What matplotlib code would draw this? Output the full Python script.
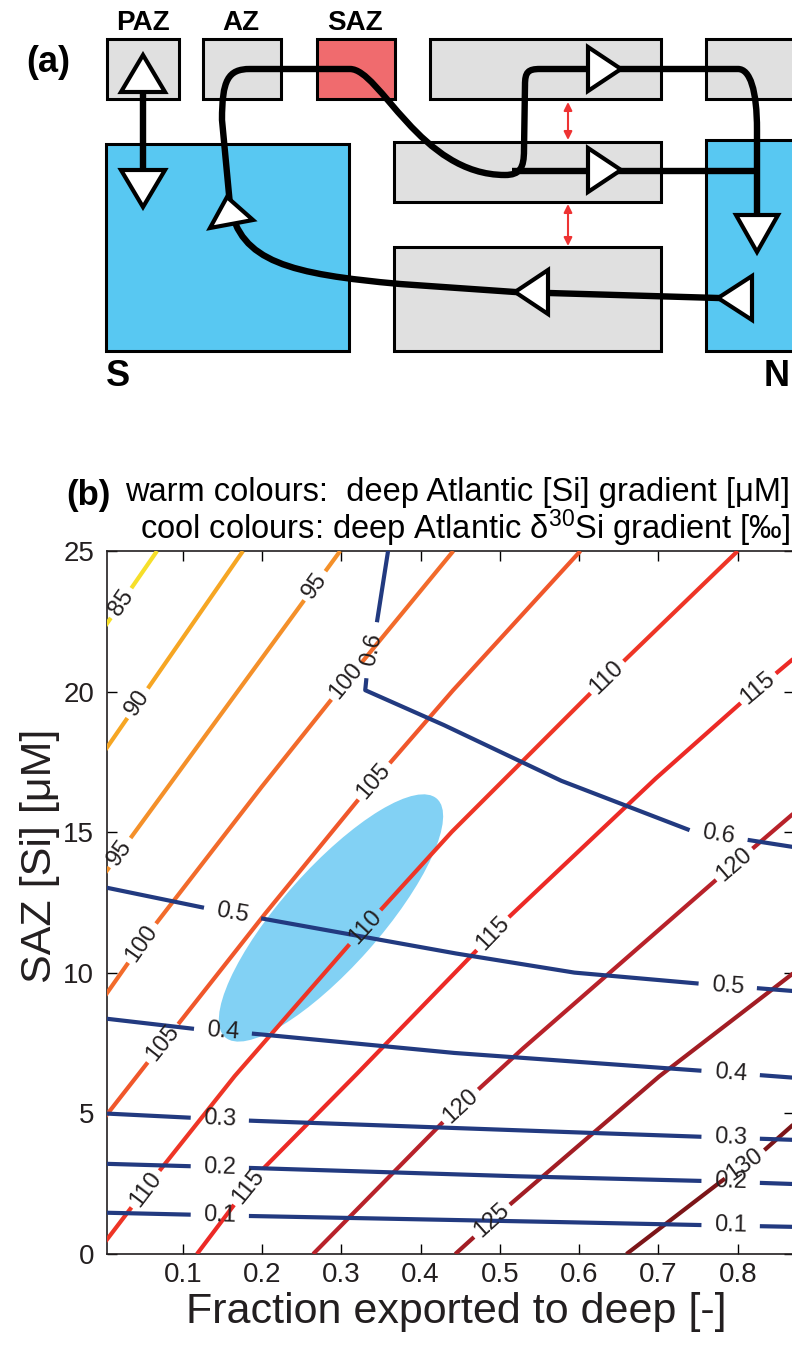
import numpy as np
import matplotlib
matplotlib.use("Agg")
import matplotlib.pyplot as plt
from matplotlib.patches import Rectangle, Polygon, Ellipse, PathPatch
from matplotlib.path import Path
from matplotlib.transforms import Affine2D

plt.rcParams['font.family'] = ['Liberation Sans', 'DejaVu Sans']
plt.rcParams['mathtext.fontset'] = 'custom'
plt.rcParams['mathtext.rm'] = 'Liberation Sans'
plt.rcParams['mathtext.it'] = 'Liberation Sans:italic'

# ---------------- panel (b) data ----------------
# x = fraction exported to deep, y = SAZ [Si] (uM)

# deep Atlantic [Si] gradient contours (uM)
si_levels = [85, 90, 95, 100, 105, 110, 115, 120, 125, 130]
si_colors = ['#F6DF2A', '#F6A623', '#F4902A', '#F26B2B', '#F0572B',
             '#EE3526', '#EC2A26', '#B8222A', '#A21D24', '#7C1518']
si85_x = [0.0, 0.0676]
si85_y = [22.24, 25.0]
si90_x = [0.0, 0.176]
si90_y = [17.83, 25.0]
si95_x = [0.0, 0.2986]
si95_y = [13.47, 25.0]
si100_x = [0.0, 0.0625, 0.195, 0.2898, 0.4413]
si100_y = [9.1, 11.61, 16.45, 19.8, 25.0]
si105_x = [0.0, 0.0574, 0.0928, 0.2001, 0.3239, 0.4375, 0.6016]
si105_y = [4.8, 6.87, 8.12, 11.97, 16.24, 19.94, 25.0]
si110_x = [0.0, 0.0676, 0.1638, 0.3112, 0.4375, 0.6143, 0.80]
si110_y = [0.35, 2.85, 6.27, 11.04, 14.96, 19.94, 25.0]
si115_x = [0.118, 0.1686, 0.2014, 0.3112, 0.4375, 0.5095, 0.6938, 0.8037, 0.88]
si115_y = [0.0, 1.89, 3.03, 6.16, 9.83, 11.93, 16.84, 19.59, 21.4]
si120_x = [0.2645, 0.43, 0.5259, 0.7746, 0.88]
si120_y = [0.0, 4.74, 7.23, 13.35, 15.9]
si125_x = [0.4438, 0.5107, 0.6989, 0.88]
si125_y = [0.0, 1.71, 6.27, 10.2]
si130_x = [0.6597, 0.7746, 0.8327, 0.88]
si130_y = [0.0, 2.49, 3.67, 4.85]

# label positions on each [Si] contour
si85_lab = [(0.0234, 23.15)]
si90_lab = [(0.0436, 19.59)]
si95_lab = [(0.0208, 14.28), (0.2645, 23.79)]
si100_lab = [(0.0486, 11.04), (0.305, 20.41)]
si105_lab = [(0.0751, 7.48), (0.3403, 16.84)]
si110_lab = [(0.0511, 2.35), (0.3302, 11.61), (0.6357, 20.51)]
si115_lab = [(0.185, 2.35), (0.4905, 11.4), (0.825, 20.16)]
si120_lab = [(0.4501, 5.27), (0.7948, 13.89)]
si125_lab = [(0.488, 1.25)]
si130_lab = [(0.8062, 3.31)]

# deep Atlantic d30Si gradient contours (permil)
d30_levels = ['0.1', '0.2', '0.3', '0.4', '0.5', '0.6']
d30_color = '#223A80'
d01_x = [0.0, 0.186, 0.50, 0.753, 0.88]
d01_y = [1.47, 1.35, 1.18, 1.03, 0.96]
d02_x = [0.0, 0.186, 0.50, 0.753, 0.88]
d02_y = [3.21, 3.06, 2.78, 2.60, 2.48]
d03_x = [0.0, 0.186, 0.50, 0.753, 0.88]
d03_y = [5.0, 4.74, 4.42, 4.17, 4.05]
d04_x = [0.0, 0.113, 0.191, 0.4375, 0.753, 0.88]
d04_y = [8.38, 8.01, 7.83, 7.16, 6.52, 6.25]
d05_x = [0.0, 0.1256, 0.2001, 0.4375, 0.5928, 0.7494, 0.88]
d05_y = [13.05, 12.32, 11.93, 10.72, 10.01, 9.62, 9.33]
d06_x = [0.359, 0.3428, 0.3327, 0.3302, 0.4249, 0.5764, 0.7405, 0.8163, 0.88]
d06_y = [25.0, 22.08, 20.76, 20.05, 18.87, 16.84, 15.06, 14.71, 14.43]

d01_lab = [(0.147, 1.39), (0.791, 1.0)]
d02_lab = [(0.147, 3.06), (0.791, 2.53)]
d03_lab = [(0.147, 4.74), (0.791, 4.13)]
d04_lab = [(0.151, 7.87), (0.791, 6.41)]
d05_lab = [(0.162, 12.04), (0.787, 9.47)]
d06_lab = [(0.339, 21.47), (0.776, 14.81)]

# observational constraint (shaded ellipse): centre and semi-axis vectors
obs_centre = (0.287, 11.95)
obs_axis1 = (0.1336, 4.24)
obs_axis2 = (0.0465, -1.164)

xticks = [0.1, 0.2, 0.3, 0.4, 0.5, 0.6, 0.7, 0.8]
yticks = [0, 5, 10, 15, 20, 25]

# ---------------- panel (a) schematic layout (pixels) ----------------
grey, blue, red = '#E0E0E0', '#58C8F2', '#F06B6E'
boxes = [  # x0, y0, x1, y1, colour
    (107, 39, 179, 99, grey),    # PAZ
    (203, 39, 281, 99, grey),    # AZ
    (317, 39, 395, 99, red),     # SAZ
    (430, 39, 661, 99, grey),
    (706, 39, 800, 99, grey),
    (106, 144, 349, 351, blue),  # S
    (394, 142, 661, 202, grey),
    (394, 247, 661, 351, grey),
    (706, 140, 800, 351, blue),  # N
]
triangles = [  # tip, base end 1, base end 2
    ((143, 55), (121, 92), (165, 92)),
    ((143, 207), (121, 170), (165, 170)),
    ((227, 197), (210, 228), (253, 220)),
    ((621, 69), (588, 47), (588, 91)),
    ((621, 170), (588, 148), (588, 192)),
    ((757, 252), (736, 215), (778, 215)),
    ((718, 298), (752, 276), (752, 320)),
    ((515, 292), (548, 270), (548, 314)),
]

fig = plt.figure(figsize=(7.92, 13.46), dpi=100)
W, H = 792.0, 1346.0

# ---------------- panel (a) ----------------
axa = fig.add_axes([0, 1 - 420 / H, 1, 420 / H])
axa.set_xlim(0, 792)
axa.set_ylim(420, 0)
axa.axis('off')

for x0, y0, x1, y1, c in boxes:
    axa.add_patch(Rectangle((x0, y0), x1 - x0, y1 - y0, facecolor=c,
                            edgecolor='black', lw=2.2, zorder=1))

M, L, C = Path.MOVETO, Path.LINETO, Path.CURVE4
main_v = [(752, 299), (515, 292), (400, 284),
          (290, 274), (240, 262), (230, 205),
          (222, 120),
          (222, 80), (228, 69), (250, 69),
          (350, 69),
          (380, 69), (420, 175), (505, 175),
          (520, 175), (524, 168), (524, 150),
          (525, 85),
          (525, 72), (528, 69), (540, 69),
          (738, 69),
          (750, 69), (757, 90), (757, 130),
          (757, 220)]
main_c = [M, L, L, C, C, C, L, C, C, C, L, C, C, C, C, C, C, L, C, C, C, L,
          C, C, C, L]
lw_path = 4.6
axa.add_patch(PathPatch(Path(main_v, main_c), facecolor='none', edgecolor='black',
                        lw=lw_path, capstyle='butt', joinstyle='round', zorder=3))
axa.add_patch(PathPatch(Path([(512, 171), (757, 171)], [M, L]), facecolor='none',
                        edgecolor='black', lw=lw_path, capstyle='butt', zorder=3))
axa.add_patch(PathPatch(Path([(143, 85), (143, 175)], [M, L]), facecolor='none',
                        edgecolor='black', lw=lw_path, capstyle='butt', zorder=3))

for tri in triangles:
    axa.add_patch(Polygon(tri, closed=True, facecolor='white', edgecolor='black',
                          lw=3.0, joinstyle='miter', zorder=4))

for y0, y1 in [(102, 140), (204, 246)]:
    axa.annotate('', xy=(568, y1), xytext=(568, y0),
                 arrowprops=dict(arrowstyle='<|-|>', color='#EE3333', lw=1.5,
                                 mutation_scale=12, shrinkA=0, shrinkB=0))

bold = dict(fontweight='bold', color='black')
axa.text(48, 62, '(a)', fontsize=26, ha='center', va='center', **bold)
for lab, xc in [('PAZ', 143), ('AZ', 241), ('SAZ', 355)]:
    axa.text(xc, 23, lab, fontsize=20, ha='center', va='center', **bold)
axa.text(106, 376, 'S', fontsize=26, ha='left', va='center', **bold)
axa.text(790, 376, 'N', fontsize=26, ha='right', va='center', **bold)

# ---------------- panel (b) ----------------
xlim = (0.004, 0.871)
ylim = (0, 25)
left, right, top, bottom = 106.6, 794.0, 551.0, 1254.0
axb = fig.add_axes([left / W, 1 - bottom / H, (right - left) / W, (bottom - top) / H])
axb.set_xlim(*xlim)
axb.set_ylim(*ylim)

axb.add_patch(Ellipse((0, 0), 2, 2, facecolor='#82D1F4', edgecolor='none', zorder=1,
                      transform=Affine2D(np.array([[obs_axis1[0], obs_axis2[0], obs_centre[0]],
                                                   [obs_axis1[1], obs_axis2[1], obs_centre[1]],
                                                   [0, 0, 1]])) + axb.transData))

renderer = fig.canvas.get_renderer()


def draw_contour(ax, xs, ys, labels, text, color, pad):
    trans = ax.transData
    pts = trans.transform(np.column_stack([xs, ys]))
    dense = [pts[0]]
    for p0, p1 in zip(pts[:-1], pts[1:]):
        n = max(int(np.hypot(*(p1 - p0))), 1)
        t = np.linspace(0, 1, n + 1)[1:]
        dense.extend(p0 + np.outer(t, p1 - p0))
    dense = np.array(dense)
    keep = np.ones(len(dense), bool)
    for lx, ly in labels:
        c0 = trans.transform((lx, ly))
        i = np.hypot(*(dense - c0).T).argmin()
        c = dense[i]
        j0, j1 = max(i - 6, 0), min(i + 6, len(dense) - 1)
        dx, dy = dense[j1] - dense[j0]
        ang = np.degrees(np.arctan2(dy, dx))
        while ang > 80:
            ang -= 180
        while ang <= -100:
            ang += 180
        xd, yd = trans.inverted().transform(c)
        t = ax.text(xd, yd, text, fontsize=17, color='#231F20', ha='center',
                    va='center', rotation=0, rotation_mode='anchor', zorder=5)
        w = t.get_window_extent(renderer).width
        t.set_rotation(ang)
        keep &= np.hypot(*(dense - c).T) > w / 2 + pad
    seg = dense.copy()
    seg[~keep] = np.nan
    xy = trans.inverted().transform(seg)
    ax.plot(xy[:, 0], xy[:, 1], color=color, lw=3.0, solid_capstyle='butt', zorder=3)


si_lines = [(si85_x, si85_y, si85_lab), (si90_x, si90_y, si90_lab),
            (si95_x, si95_y, si95_lab), (si100_x, si100_y, si100_lab),
            (si105_x, si105_y, si105_lab), (si110_x, si110_y, si110_lab),
            (si115_x, si115_y, si115_lab), (si120_x, si120_y, si120_lab),
            (si125_x, si125_y, si125_lab), (si130_x, si130_y, si130_lab)]
for lev, col, (xs, ys, labs) in zip(si_levels, si_colors, si_lines):
    draw_contour(axb, xs, ys, labs, str(lev), col, pad=4)

d30_lines = [(d01_x, d01_y, d01_lab), (d02_x, d02_y, d02_lab), (d03_x, d03_y, d03_lab),
             (d04_x, d04_y, d04_lab), (d05_x, d05_y, d05_lab), (d06_x, d06_y, d06_lab)]
for lev, (xs, ys, labs) in zip(d30_levels, d30_lines):
    draw_contour(axb, xs, ys, labs, lev, d30_color, pad=12)

axb.set_xticks(xticks)
axb.set_xticklabels([f'{v:.1f}' for v in xticks])
axb.set_yticks(yticks)
axb.set_yticklabels([str(v) for v in yticks])
axb.tick_params(direction='in', top=True, right=True, length=7, width=1.0,
                labelsize=20, labelcolor='#231F20')
axb.tick_params(axis='x', pad=6)
axb.tick_params(axis='y', pad=9)
for s in axb.spines.values():
    s.set_linewidth(1.2)
    s.set_color('#231F20')

fig.text(456 / W, 1 - 1312 / H, 'Fraction exported to deep [-]', fontsize=31,
         ha='center', va='center', color='#231F20')
fig.text(40 / W, 1 - 856 / H, 'SAZ [Si] [μM]', fontsize=31, rotation=90,
         ha='center', va='center', color='#231F20')
fig.text(88 / W, 1 - 495 / H, '(b)', fontsize=25, ha='center', va='center', **bold)
fig.text(790 / W, 1 - 492 / H, 'warm colours:  deep Atlantic [Si] gradient [μM]',
         fontsize=23.5, ha='right', va='center', color='black')
fig.text(790 / W, 1 - 528 / H, 'cool colours: deep Atlantic δ$^{30}$Si gradient [‰]',
         fontsize=23.5, ha='right', va='center', color='black')

fig.savefig('out.png', dpi=100)
